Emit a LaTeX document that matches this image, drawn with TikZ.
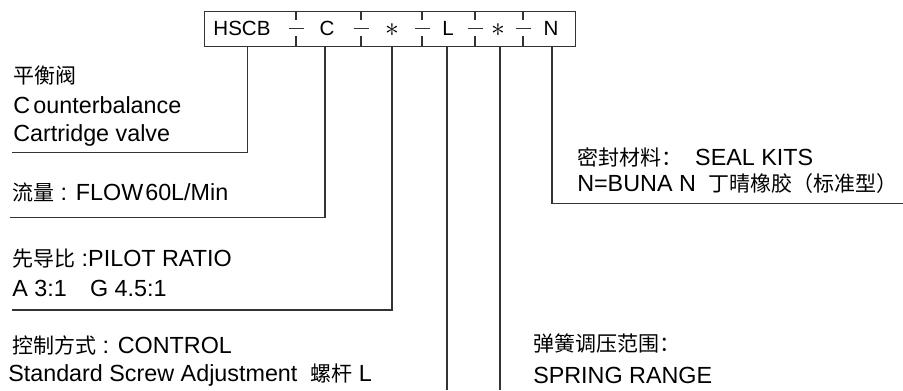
\documentclass[tikz,border=0pt]{standalone}
\usepackage{fontspec}
\setmainfont{Liberation Sans}
\newfontfamily\cjk{Noto Sans CJK SC}[Scale=0.9]
\begin{document}
\begin{tikzpicture}[x=0.75pt,y=-0.75pt,
  ln/.style={draw=black!80, line width=0.8pt},
  lbl/.style={anchor=base west, inner sep=0pt, font=\fontsize{17.5}{20}\selectfont},
  code/.style={anchor=base, inner sep=0pt, font=\fontsize{15.4}{18}\selectfont},
  star/.style={anchor=center, inner sep=0pt, font=\fontsize{20}{22}\selectfont}]
\useasboundingbox (0,0) rectangle (903,390);
% code box
\node (box) [ln, draw, inner sep=0pt, minimum width=278.25pt, minimum height=26.25pt, anchor=north west] at (204,11) {};
\foreach \sx in {296,361,422,475,523}{
  \draw[ln] (\sx,11) -- (\sx,20);
  \draw[ln] (\sx,36) -- (\sx,46);
  \draw[ln] (\sx-7.5,28.5) -- (\sx+7.5,28.5);
}
\node (k1) [code] at (242,35.8) {HSCB};
\node (k2) [code] at (327,35.8) {C};
\node (k3) [star] at (392,30) {$\ast$};
\node (k4) [code] at (448,35.8) {L};
\node (k5) [star] at (498,30) {$\ast$};
\node (k6) [code] at (551,35.8) {N};
% drop points on box bottom
\coordinate (t1) at (247.5,46);
\coordinate (t2) at (325,46);
\coordinate (t3) at (392,46);
\coordinate (t4) at (447,46);
\coordinate (t5) at (500,46);
\coordinate (t6) at (552,46);
% line ends
\coordinate (e1) at (12,152.7);
\coordinate (e2) at (10,217.7);
\coordinate (e3) at (12,310);
\coordinate (e4) at (447,390);
\coordinate (e5) at (500,390);
\coordinate (e6) at (903,203.5);
\draw[ln] (t1) |- (e1);
\draw[ln] (t2) |- (e2);
\draw[ln] (t3) |- (e3);
\draw[ln] (t4) -- (e4);
\draw[ln] (t5) -- (e5);
\draw[ln] (t6) |- (e6);
% labels
\node (a1) [lbl] at (13,83) {\cjk 平衡阀};
\node (a2) [lbl] at (13,113) {C\kern2.5pt ounterbalance};
\node (a3) [lbl] at (13,141) {Cartridge valve};
\node (b1) [lbl] at (12,200) {{\cjk 流量} : FLOW\kern1.5pt 60L/Min};
\node (c1) [lbl] at (12,266) {{\cjk 先导比} :PILOT RATIO};
\node (c2) [lbl] at (12,296) {A 3:1\quad G 4.5:1};
\node (d1) [lbl] at (12,353) {{\cjk 控制方式} : CONTROL};
\node (d2) [lbl] at (8,381) {Standard Screw Adjustment\ \ {\cjk 螺杆} L};
\node (f1) [lbl] at (577,165) {{\cjk 密封材料：}\ \ SEAL KITS};
\node (f2) [lbl] at (577,191) {N=BUNA N\ \ {\cjk 丁晴橡胶（标准型）}};
\node (g1) [lbl] at (533,351) {\cjk 弹簧调压范围：};
\node (g2) [lbl] at (533,383) {SPRING RANGE};
\end{tikzpicture}
\end{document}
